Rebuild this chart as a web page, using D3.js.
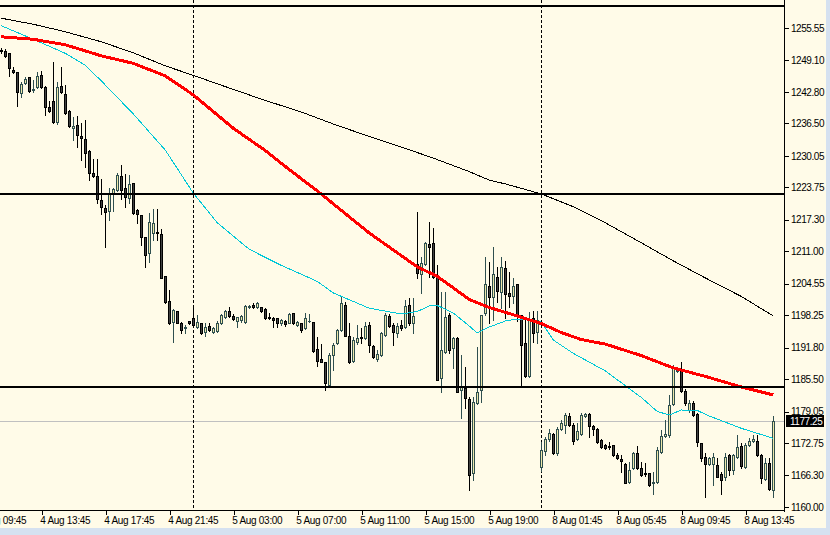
<!DOCTYPE html>
<html><head><meta charset="utf-8">
<script src="https://cdn.jsdelivr.net/npm/d3@7"></script>
<style>
html,body{margin:0;padding:0;background:#D5E1F0;}
svg{display:block;}
text{font-family:"Liberation Sans",Arial,sans-serif;}
</style></head><body>
<svg id="c" width="830" height="535"></svg>
<script>
// ---- data (M15 candles, bar index 0..193) ----
const opens = [1251.2,1251.0,1250.6,1247.2,1246.8,1242.6,1244.6,1245.8,1243.2,1243.8,
1246.2,1243.8,1239.8,1241.0,1236.8,1244.0,1242.4,1239.0,1235.6,1236.2,
1234.0,1233.4,1231.0,1226.6,1226.0,1221.2,1219.6,1219.0,1222.4,1223.2,
1226.0,1223.6,1221.6,1224.6,1219.2,1218.2,1213.8,1210.6,1214.6,1214.8,
1214.4,1206.0,1201.0,1196.9,1199.1,1196.7,1195.7,1197.1,1197.7,1195.9,
1196.7,1194.9,1196.1,1194.9,1195.1,1196.7,1197.9,1199.1,1198.1,1197.1,
1197.3,1196.9,1199.9,1200.3,1199.9,1199.9,1199.5,1197.9,1197.7,1197.7,
1196.7,1197.1,1196.7,1198.7,1196.3,1196.7,1195.7,1197.1,1196.9,1191.5,
1189.5,1188.9,1184.4,1190.3,1192.7,1195.3,1200.3,1194.1,1189.1,1192.9,
1193.9,1193.7,1196.3,1192.1,1189.5,1190.3,1194.3,1198.1,1196.3,1194.7,
1196.3,1195.9,1200.3,1196.7,1208.5,1206.5,1208.5,1212.5,1212.7,1205.9,
1185.8,1190.9,1198.3,1191.7,1193.7,1183.4,1183.8,1181.6,1166.8,1180.8,
1183.4,1198.7,1204.1,1201.9,1205.9,1202.9,1207.7,1202.7,1202.1,1204.5,
1198.3,1192.7,1186.1,1197.7,1194.9,1168.0,1171.2,1173.6,1174.6,1170.8,
1175.6,1176.4,1178.2,1176.4,1173.6,1174.6,1178.2,1178.6,1176.2,1175.6,
1173.4,1172.4,1172.2,1172.4,1170.4,1169.6,1168.6,1165.0,1167.8,1170.8,
1167.8,1166.8,1166.8,1164.8,1165.0,1171.0,1174.2,1174.4,1180.6,1187.1,
1187.1,1183.2,1179.4,1180.8,1178.6,1172.8,1170.0,1168.6,1168.6,1168.4,
1166.6,1166.0,1170.4,1167.4,1170.0,1172.2,1168.0,1172.4,1173.2,1173.2,
1170.4,1165.6,1168.8,1163.4];
const highs = [1251.6,1251.4,1250.6,1247.8,1246.8,1244.8,1245.8,1245.8,1245.2,1246.8,
1247.0,1244.0,1241.0,1248.8,1244.8,1247.8,1244.2,1239.2,1237.8,1238.0,
1236.6,1237.2,1231.2,1229.4,1229.4,1225.4,1220.2,1223.6,1223.6,1226.6,
1228.2,1226.4,1226.2,1224.6,1219.4,1218.2,1213.8,1218.6,1219.4,1219.4,
1215.4,1206.0,1203.2,1199.5,1199.1,1196.9,1196.3,1197.1,1200.3,1198.3,
1196.7,1196.7,1196.7,1195.9,1197.1,1198.5,1199.3,1199.9,1198.5,1197.9,
1198.3,1200.3,1200.3,1200.7,1200.9,1199.9,1199.7,1198.7,1197.9,1197.7,
1197.5,1197.3,1198.7,1198.7,1197.1,1196.7,1198.7,1198.5,1196.9,1193.9,
1192.5,1188.9,1190.7,1192.7,1195.5,1201.9,1200.9,1196.7,1193.9,1196.3,
1195.7,1196.9,1196.9,1192.3,1191.3,1194.9,1198.7,1198.5,1196.7,1196.7,
1197.3,1201.3,1201.7,1201.7,1218.9,1209.9,1212.9,1216.9,1215.7,1208.3,
1202.9,1202.9,1198.7,1193.9,1193.9,1190.3,1187.9,1182.0,1182.0,1191.9,
1198.3,1209.9,1208.9,1211.9,1207.9,1209.9,1209.1,1206.9,1205.7,1204.5,
1198.3,1197.7,1198.9,1199.1,1199.1,1173.0,1174.0,1175.6,1174.8,1176.0,
1177.4,1178.8,1178.8,1176.8,1176.8,1178.8,1178.8,1178.8,1176.4,1175.8,
1173.6,1172.6,1173.0,1172.4,1170.8,1170.4,1168.8,1169.0,1171.0,1172.2,
1169.0,1168.8,1166.8,1167.0,1172.0,1175.4,1177.4,1182.4,1188.3,1187.9,
1188.9,1183.6,1181.4,1181.2,1178.8,1172.8,1170.8,1170.0,1170.8,1169.8,
1167.0,1170.8,1170.6,1170.6,1174.4,1172.8,1172.8,1173.8,1174.4,1174.4,
1170.6,1169.8,1169.8,1178.2];
const lows = [1250.6,1249.8,1246.0,1246.6,1240.0,1241.8,1244.4,1242.8,1242.8,1243.6,
1243.6,1238.2,1238.8,1236.6,1236.4,1242.6,1238.4,1235.8,1233.2,1231.8,
1229.2,1227.8,1225.2,1225.8,1220.6,1218.4,1211.8,1217.2,1219.0,1223.0,
1221.4,1219.8,1220.6,1218.4,1216.6,1212.2,1207.8,1208.8,1213.2,1213.2,
1205.6,1200.6,1196.6,1192.9,1196.7,1194.7,1194.7,1196.5,1195.9,1195.7,
1194.5,1194.1,1195.1,1194.7,1194.9,1196.5,1197.7,1197.9,1197.3,1195.9,
1196.9,1196.7,1199.7,1199.7,1199.7,1198.9,1197.5,1197.5,1195.9,1195.9,
1196.3,1196.1,1196.7,1196.5,1196.1,1194.9,1195.5,1196.9,1190.9,1188.1,
1188.9,1183.4,1184.2,1187.3,1192.5,1195.1,1194.1,1188.7,1188.9,1192.5,
1192.7,1193.5,1190.9,1189.7,1189.1,1190.1,1194.1,1195.9,1192.3,1193.9,
1195.3,1195.7,1196.3,1194.7,1205.7,1202.7,1208.3,1205.9,1205.7,1185.4,
1183.0,1190.7,1190.7,1187.7,1183.0,1177.8,1179.8,1163.4,1165.4,1180.6,
1181.0,1198.3,1196.7,1197.3,1200.9,1199.7,1197.7,1199.9,1200.7,1197.1,
1184.4,1185.9,1185.9,1192.9,1192.7,1167.2,1170.4,1173.2,1170.6,1170.4,
1175.4,1174.8,1176.2,1172.6,1173.4,1174.4,1178.0,1174.0,1174.4,1172.8,
1171.8,1171.6,1171.6,1170.2,1169.6,1167.0,1164.8,1164.8,1167.6,1167.6,
1166.2,1166.2,1164.2,1162.6,1164.8,1170.8,1174.0,1174.0,1180.4,1186.9,
1183.0,1180.4,1179.0,1178.2,1172.2,1169.2,1162.0,1168.4,1164.4,1166.0,
1162.6,1165.4,1166.4,1166.6,1169.8,1167.8,1167.8,1172.2,1173.0,1170.2,
1164.8,1165.4,1163.4,1162.0];
const closes = [1251.0,1250.0,1247.6,1246.8,1242.8,1244.4,1245.4,1243.0,1243.4,1246.0,
1243.8,1239.8,1239.0,1236.8,1243.8,1242.8,1238.6,1236.0,1236.0,1234.2,
1233.6,1230.6,1226.6,1226.0,1221.4,1219.8,1218.8,1222.6,1223.4,1226.2,
1223.2,1221.8,1224.4,1218.6,1218.4,1213.8,1210.2,1216.8,1216.6,1214.6,
1205.6,1200.8,1196.8,1199.3,1196.8,1195.3,1195.9,1196.7,1196.3,1196.9,
1194.7,1195.9,1195.3,1195.7,1196.7,1198.3,1199.1,1198.1,1197.5,1197.9,
1198.1,1200.1,1200.1,1199.9,1200.7,1199.1,1197.7,1197.8,1197.3,1196.7,
1197.3,1196.5,1198.5,1196.7,1196.9,1195.3,1197.7,1197.1,1191.1,1189.1,
1188.9,1184.8,1190.3,1192.3,1195.3,1200.7,1194.1,1188.9,1193.3,1193.7,
1193.7,1196.1,1192.3,1189.9,1190.5,1194.7,1198.3,1196.1,1194.9,1196.1,
1195.7,1200.1,1196.7,1198.1,1206.7,1208.7,1212.7,1211.9,1205.9,1185.4,
1191.3,1197.9,1191.3,1193.7,1183.0,1184.0,1181.8,1166.4,1181.0,1183.0,
1198.3,1204.5,1201.9,1206.5,1203.1,1207.9,1202.5,1202.1,1204.1,1198.3,
1192.3,1186.1,1197.3,1194.7,1197.3,1171.4,1173.6,1174.8,1170.8,1175.6,
1176.8,1178.4,1176.4,1173.2,1175.2,1178.4,1178.6,1176.2,1175.6,1173.0,
1172.0,1171.8,1172.0,1170.4,1169.8,1169.2,1164.8,1167.4,1170.8,1167.8,
1166.4,1166.6,1164.4,1165.0,1171.4,1174.2,1174.6,1180.4,1187.9,1187.5,
1183.2,1180.8,1180.8,1178.4,1173.0,1169.8,1168.6,1169.8,1170.0,1166.0,
1165.4,1170.0,1167.4,1170.4,1172.0,1168.2,1172.4,1173.2,1173.6,1170.4,
1165.8,1168.8,1163.6,1177.25];

// moving averages (bar index, value)
const maSlowBars = [0,8,16,25,33,41,48,58,66,75,83,92,100,108,117,122,126,135,143,151,160,168,176,185,193];
const maSlowVals = [1257.5,1256.3,1254.8,1252.8,1250.6,1248.0,1246.1,1243.3,1241.1,1238.8,1236.4,1233.9,1231.8,1229.6,1226.9,1225.2,1224.45,1222.45,1219.9,1216.7,1212.7,1209.1,1205.7,1202.0,1198.1];
const maMidBars = [0,8,16,25,33,41,48,58,66,72,79,92,104,109,117,122,129,135,140,145,151,160,168,176,185,193];
const maMidVals = [1253.8,1253.3,1252.2,1250.0,1248.5,1246.0,1242.2,1235.55,1231.1,1227.3,1223.05,1214.65,1207.9,1206.0,1201.4,1199.8,1198.1,1196.6,1194.8,1193.4,1192.5,1190.2,1187.75,1186.05,1183.95,1182.35];
const maFastBars = [0,8,16,21,25,33,41,48,54,62,70,79,83,92,100,104,107,109,113,117,119,122,126,129,132,135,138,143,151,160,164,167,170,174,177,185,193];
const maFastVals = [1256.0,1253.3,1250.5,1248.1,1245.0,1238.4,1231.2,1222.6,1216.7,1211.4,1208.2,1205.0,1202.7,1199.65,1198.5,1199.0,1200.1,1200.2,1198.7,1196.1,1194.7,1195.9,1197.1,1197.5,1197.3,1196.9,1193.3,1190.65,1187.15,1181.85,1179.05,1178.35,1179.35,1179.25,1178.15,1175.7,1173.7];

const hLevels = [1260.0, 1222.5, 1184.0];
const separatorBars = [48, 135];
const priceTicks = [1255.55,1249.10,1242.80,1236.50,1230.05,1223.75,1217.30,1211.00,1204.55,1198.25,1191.80,1185.50,1179.05,1172.75,1166.30,1160.00];
const timeBars = [-6,10,26,42,58,74,90,106,122,138,154,170,186];
const timeLabels = ["4 Aug 09:45","4 Aug 13:45","4 Aug 17:45","4 Aug 21:45","5 Aug 03:00","5 Aug 07:00","5 Aug 11:00","5 Aug 15:00","5 Aug 19:00","8 Aug 01:45","8 Aug 05:45","8 Aug 09:45","8 Aug 13:45"];

// ---- drawing ----
const W = 830, H = 535, plotR = 784, plotB = 510;
const svg = d3.select("#c");
svg.append("rect").attr("width", W).attr("height", H).attr("fill", "#D5E1F0");
svg.append("rect").attr("width", 826).attr("height", 528).attr("fill", "#FFFBE8");

const x = d3.scaleLinear().domain([0, 193]).range([1.3, 773.3]);
const y = d3.scaleLinear().domain([1160, 1255.55]).range([507, 28]);
const px = k => Math.round(x(k));
const py = v => Math.round(y(v));

svg.append("defs").append("clipPath").attr("id", "plot")
  .append("rect").attr("x", 0).attr("y", 0).attr("width", plotR).attr("height", plotB);
const g = svg.append("g").attr("clip-path", "url(#plot)").attr("shape-rendering", "crispEdges");

// current price line
const last = closes[closes.length - 1];
g.append("line").attr("x1", 0).attr("x2", plotR)
  .attr("y1", py(last) + 0.5).attr("y2", py(last) + 0.5)
  .attr("stroke", "#C0C0C0").attr("stroke-width", 1);

// period separators
g.selectAll(".sep").data(separatorBars).join("line")
  .attr("x1", d => px(d) + 0.5).attr("x2", d => px(d) + 0.5)
  .attr("y1", 0).attr("y2", plotB)
  .attr("stroke", "#000").attr("stroke-width", 1).attr("stroke-dasharray", "3,2");

// candles
const idx = d3.range(opens.length);
const cg = g.append("g");
idx.forEach(i => {
  const o = opens[i], c = closes[i];
  const hi = Math.max(highs[i], o, c), lo = Math.min(lows[i], o, c);
  const bull = c >= o;
  const cx = px(i);
  const edge = bull ? "#2F4F4F" : "#000000";
  const fill = bull ? "#EEE8AA" : "#404040";
  const yh = py(hi), yl = py(lo);
  cg.append("rect").attr("x", cx).attr("y", yh).attr("width", 1).attr("height", yl - yh + 1).attr("fill", edge);
  const top = py(Math.max(o, c)), bot = py(Math.min(o, c));
  cg.append("rect").attr("x", cx - 1).attr("y", top).attr("width", 3).attr("height", bot - top + 1).attr("fill", edge);
  if (bot - top >= 2) {
    cg.append("rect").attr("x", cx).attr("y", top + 1).attr("width", 1).attr("height", bot - top - 1).attr("fill", fill);
  }
});

// moving averages
function maLine(bars, vals, color, w) {
  const pts = bars.map((b, i) => [x(b), y(vals[i])]);
  g.append("path").attr("d", d3.line()(pts)).attr("fill", "none")
    .attr("stroke", color).attr("stroke-width", w).attr("stroke-linejoin", "round");
}
maLine(maSlowBars, maSlowVals, "#000000", 1);
maLine(maFastBars, maFastVals, "#00C8D8", 1);
maLine(maMidBars, maMidVals, "#FF0000", 3);

// horizontal levels
g.selectAll(".lvl").data(hLevels).join("line")
  .attr("x1", 0).attr("x2", plotR)
  .attr("y1", d => py(d)).attr("y2", d => py(d))
  .attr("stroke", "#000").attr("stroke-width", 2);

// axes frame
const fr = svg.append("g").attr("shape-rendering", "crispEdges");
fr.append("line").attr("x1", plotR + 0.5).attr("x2", plotR + 0.5).attr("y1", 0).attr("y2", plotB + 2).attr("stroke", "#000");
fr.append("line").attr("x1", 0).attr("x2", plotR + 1).attr("y1", plotB + 0.5).attr("y2", plotB + 0.5).attr("stroke", "#000");

// right price axis
const ax = svg.append("g").attr("transform", `translate(${plotR + 1},0)`)
  .call(d3.axisRight(y).tickValues(priceTicks).tickFormat(d3.format(".2f")).tickSize(4).tickPadding(2));
ax.select(".domain").remove();
ax.selectAll("line").attr("stroke", "#000").attr("shape-rendering", "crispEdges");
ax.selectAll("text").attr("fill", "#000").attr("font-size", 10)
  .attr("font-family", "Liberation Sans, Arial, sans-serif").attr("letter-spacing", "-0.45px");

// bottom time axis
const bx = svg.append("g").attr("transform", `translate(0,${plotB + 1})`)
  .call(d3.axisBottom(x).tickValues(timeBars).tickFormat((d, i) => timeLabels[i]).tickSize(4).tickPadding(2));
bx.select(".domain").remove();
bx.selectAll("line").attr("stroke", "#000").attr("shape-rendering", "crispEdges")
  .attr("transform", "translate(0.2,0)");
bx.selectAll("text").attr("fill", "#000").attr("font-size", 10).attr("text-anchor", "start")
  .attr("dx", -1.5).attr("font-family", "Liberation Sans, Arial, sans-serif").attr("letter-spacing", "-0.3px");

// current price marker
const lp = svg.append("g");
lp.append("rect").attr("x", plotR + 2).attr("y", py(last) - 6).attr("width", 38).attr("height", 12).attr("fill", "#000");
lp.append("text").attr("x", plotR + 6).attr("y", py(last) + 4).attr("fill", "#fff")
  .attr("font-size", 10).attr("letter-spacing", "-0.45px").text(d3.format(".2f")(last));
</script>
</body></html>
